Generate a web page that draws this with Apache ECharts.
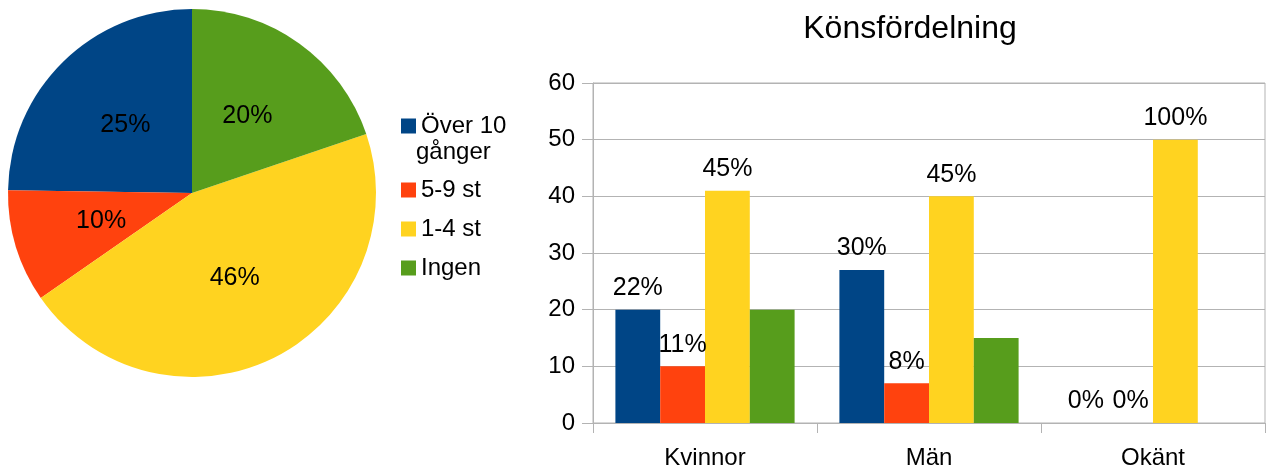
<!DOCTYPE html>
<html>
<head>
<meta charset="utf-8">
<script src="https://cdn.jsdelivr.net/npm/echarts@6/dist/echarts.min.js"></script>
<style>
  html, body { margin: 0; padding: 0; background: #fff; }
  #main { width: 1268px; height: 470px; }
</style>
</head>
<body>
<div id="main"></div>
<script>
// kategorier (pie + legend)
var groups = ['Över 10 gånger', '5-9 st', '1-4 st', 'Ingen'];
var colors = ['#004586', '#ff420e', '#ffd320', '#579d1c'];
var pieValues = [25, 10, 46, 20];

// könsfördelning
var genders = ['Kvinnor', 'Män', 'Okänt'];
var barOver10 = [20, 27, 0];
var bar5to9 = [10, 7, 0];
var bar1to4 = [41, 40, 50];
var barIngen = [20, 15, null];
var lblOver10 = ['22%', '30%', '0%'];
var lbl5to9 = ['11%', '8%', '0%'];
var lbl1to4 = ['45%', '45%', '100%'];
var lblIngen = null; // inga etiketter

var font = "'Liberation Sans', Arial, sans-serif";
var chart = echarts.init(document.getElementById('main'));

var pieData = [];
for (var i = 0; i < groups.length; i++) {
  pieData.push({ name: groups[i], value: pieValues[i], itemStyle: { color: colors[i] } });
}

function barSeries(idx, values, labels) {
  return {
    name: groups[idx],
    type: 'bar',
    barGap: '0%',
    barCategoryGap: '20%',
    itemStyle: { color: colors[idx] },
    data: values,
    label: {
      show: !!labels,
      position: 'top',
      distance: 9,
      fontFamily: font,
      fontSize: 25,
      color: '#000',
      formatter: function (p) { return labels ? labels[p.dataIndex] : ''; }
    }
  };
}

var legendText = { fontFamily: font, fontSize: 24, lineHeight: 24, color: '#000' };

var option = {
  animation: false,
  backgroundColor: '#fff',
  title: {
    text: 'Könsfördelning',
    left: 905,
    top: 8,
    textAlign: 'center',
    textStyle: { fontFamily: font, fontSize: 32, fontWeight: 'normal', color: '#000' }
  },
  legend: [
    {
      data: [groups[0]],
      orient: 'vertical',
      left: 396,
      top: 109,
      icon: 'rect',
      itemWidth: 15,
      itemHeight: 15,
      formatter: function (n) { return 'Över 10'; },
      textStyle: legendText
    },
    {
      data: groups.slice(1),
      orient: 'vertical',
      left: 396,
      top: 173,
      icon: 'rect',
      itemWidth: 15,
      itemHeight: 15,
      itemGap: 15,
      textStyle: legendText
    }
  ],
  graphic: [
    {
      type: 'text',
      left: 416,
      top: 140,
      style: { text: 'gånger', font: '24px ' + font, fill: '#000' }
    }
  ],
  grid: { left: 593, right: 3, top: 83, bottom: 47, show: true, borderColor: '#b3b3b3', borderWidth: 1 },
  xAxis: {
    type: 'category',
    data: genders,
    axisLine: { lineStyle: { color: '#b3b3b3' } },
    axisTick: { show: true, length: 10, lineStyle: { color: '#b3b3b3' } },
    axisLabel: { fontFamily: font, fontSize: 24, color: '#000', margin: 23 }
  },
  yAxis: {
    type: 'value',
    min: 0,
    max: 60,
    interval: 10,
    axisLine: { show: true, lineStyle: { color: '#b3b3b3' } },
    axisTick: { show: true, length: 11, lineStyle: { color: '#b3b3b3' } },
    splitLine: { lineStyle: { color: '#b3b3b3' } },
    axisLabel: { fontFamily: font, fontSize: 24, color: '#000', margin: 18 }
  },
  series: [
    {
      type: 'pie',
      center: [192, 193],
      radius: 184,
      startAngle: 90,
      clockwise: false,
      data: pieData,
      label: {
        show: true,
        position: 'inside',
        fontFamily: font,
        fontSize: 25,
        color: '#000',
        padding: [6, 0, 0, 0],
        formatter: function (p) { return Math.round(p.percent) + '%'; }
      },
      labelLine: { show: false }
    },
    barSeries(0, barOver10, lblOver10),
    barSeries(1, bar5to9, lbl5to9),
    barSeries(2, bar1to4, lbl1to4),
    barSeries(3, barIngen, lblIngen)
  ]
};

chart.setOption(option);
</script>
</body>
</html>
